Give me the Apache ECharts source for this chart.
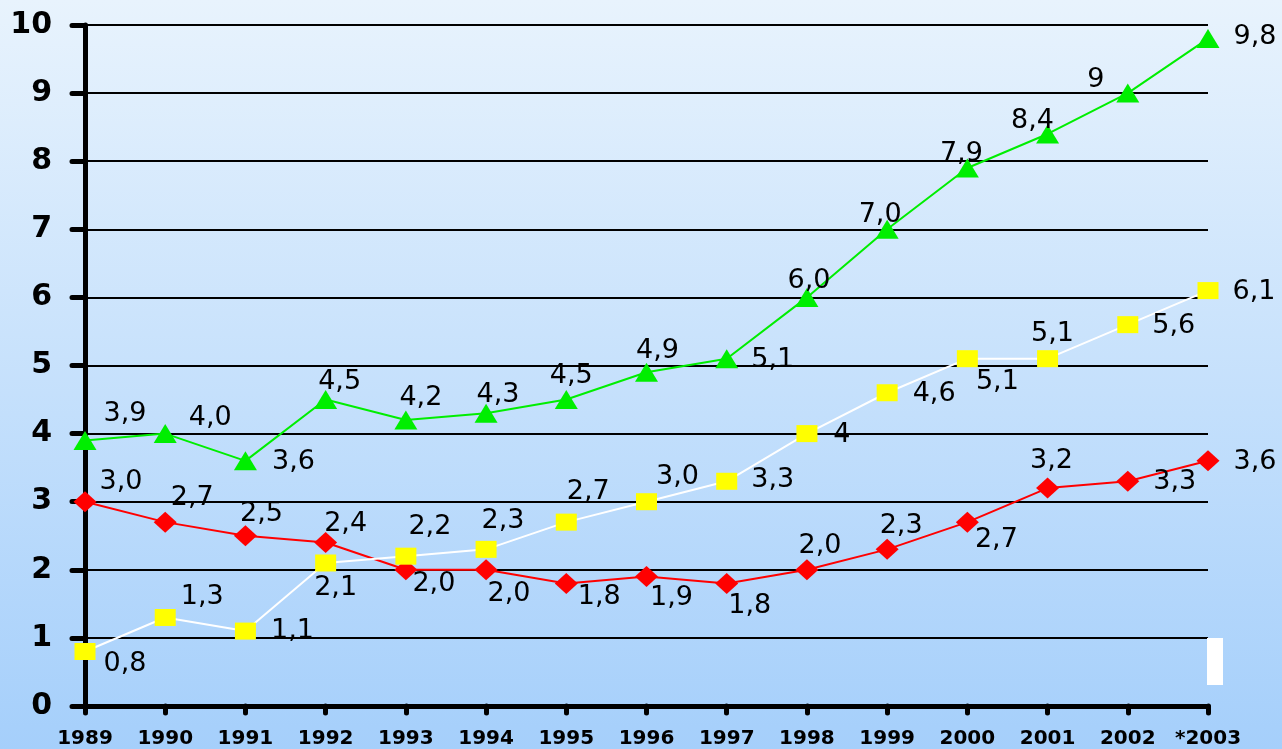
<!DOCTYPE html>
<html>
<head>
<meta charset="utf-8">
<script src="https://cdn.jsdelivr.net/npm/echarts@6/dist/echarts.min.js"></script>
<style>
html,body{margin:0;padding:0;width:1282px;height:749px;overflow:hidden;}
#chart{width:1282px;height:749px;}
</style>
</head>
<body>
<div id="chart"></div>
<script>
const categories = ['1989','1990','1991','1992','1993','1994','1995','1996','1997','1998','1999','2000','2001','2002','*2003'];
const yTicks = [0,1,2,3,4,5,6,7,8,9,10];

const greenValues  = [3.9,4.0,3.6,4.5,4.2,4.3,4.5,4.9,5.1,6.0,7.0,7.9,8.4,9.0,9.8];
const yellowValues = [0.8,1.3,1.1,2.1,2.2,2.3,2.7,3.0,3.3,4.0,4.6,5.1,5.1,5.6,6.1];
const redValues    = [3.0,2.7,2.5,2.4,2.0,2.0,1.8,1.9,1.8,2.0,2.3,2.7,3.2,3.3,3.6];

const greenLabels  = ['3,9','4,0','3,6','4,5','4,2','4,3','4,5','4,9','5,1','6,0','7,0','7,9','8,4','9','9,8'];
const yellowLabels = ['0,8','1,3','1,1','2,1','2,2','2,3','2,7','3,0','3,3','4','4,6','5,1','5,1','5,6','6,1'];
const redLabels    = ['3,0','2,7','2,5','2,4','2,0','2,0','1,8','1,9','1,8','2,0','2,3','2,7','3,2','3,3','3,6'];

// label placement (pixel offsets of label centre from marker centre)
const greenOffsets  = [[40,-26],[45,-16],[48,1],[14,-18],[15,-22],[12,-18],[5,-24],[11,-21],[46,1],[2,-16],[-7,-14],[-6,-14],[-15,-13],[-32,-13],[47,-2]];
const yellowOffsets = [[40,12],[37,-20],[47,0],[10,25],[24,-29],[17,-28],[22,-30],[31,-25],[46,-1],[35,1],[47,1],[30,23],[5,-25],[46,1],[46,1]];
const redOffsets    = [[36,-20],[27,-24],[16,-22],[20,-19],[28,14],[23,24],[33,14],[25,21],[23,23],[13,-24],[14,-23],[29,18],[4,-27],[47,1],[47,1]];

const labelFont = {fontFamily:'DejaVu Sans', fontSize:27, color:'#000'};

function buildData(values, labels, offsets){
  return values.map((v,i)=>({
    value:v,
    label:{show:true, position:'inside', align:'center', verticalAlign:'middle',
      offset:offsets[i], formatter:labels[i], ...labelFont}
  }));
}

const chart = echarts.init(document.getElementById('chart'));
chart.setOption({
  animation:false,
  backgroundColor:{type:'linear',x:0,y:0,x2:0,y2:1,colorStops:[
    {offset:0,color:'#e8f3fd'},{offset:1,color:'#a5cffb'}]},
  grid:{left:85,right:74,top:25,bottom:42,containLabel:false},
  xAxis:{
    type:'category', data:categories, boundaryGap:false,
    axisLine:{show:true,lineStyle:{color:'#000',width:5,cap:'round'}},
    axisTick:{show:true,length:7,alignWithLabel:true,lineStyle:{color:'#000',width:5,cap:'round'}},
    axisLabel:{margin:23,fontFamily:'DejaVu Sans',fontWeight:'bold',fontSize:20,color:'#000',interval:0},
    splitLine:{show:false}
  },
  yAxis:{
    type:'value', min:yTicks[0], max:yTicks[yTicks.length-1], interval:1,
    axisLine:{show:true,lineStyle:{color:'#000',width:5,cap:'round'}},
    axisTick:{show:true,length:13,lineStyle:{color:'#000',width:5,cap:'round'}},
    axisLabel:{margin:33,fontFamily:'DejaVu Sans',fontWeight:'bold',fontSize:30,color:'#000'},
    splitLine:{show:true,lineStyle:{color:'#000',width:2}}
  },
  series:[
    {type:'line', name:'red', data:buildData(redValues,redLabels,redOffsets),
      symbol:'diamond', symbolSize:[23,21], showAllSymbol:true,
      lineStyle:{color:'#ff0000',width:2}, itemStyle:{color:'#ff0000'}, z:2},
    {type:'line', name:'yellow', data:buildData(yellowValues,yellowLabels,yellowOffsets),
      symbol:'rect', symbolSize:[21,17], showAllSymbol:true,
      lineStyle:{color:'#ffffff',width:2}, itemStyle:{color:'#ffff00'}, z:3},
    {type:'line', name:'green', data:buildData(greenValues,greenLabels,greenOffsets),
      symbol:'triangle', symbolSize:[23,19], showAllSymbol:true,
      lineStyle:{color:'#00ee00',width:2}, itemStyle:{color:'#00ee00'}, z:4}
  ],
  graphic:[
    {type:'rect', shape:{x:1207,y:638,width:16,height:47}, style:{fill:'#ffffff'}, z:10}
  ]
});
</script>
</body>
</html>
